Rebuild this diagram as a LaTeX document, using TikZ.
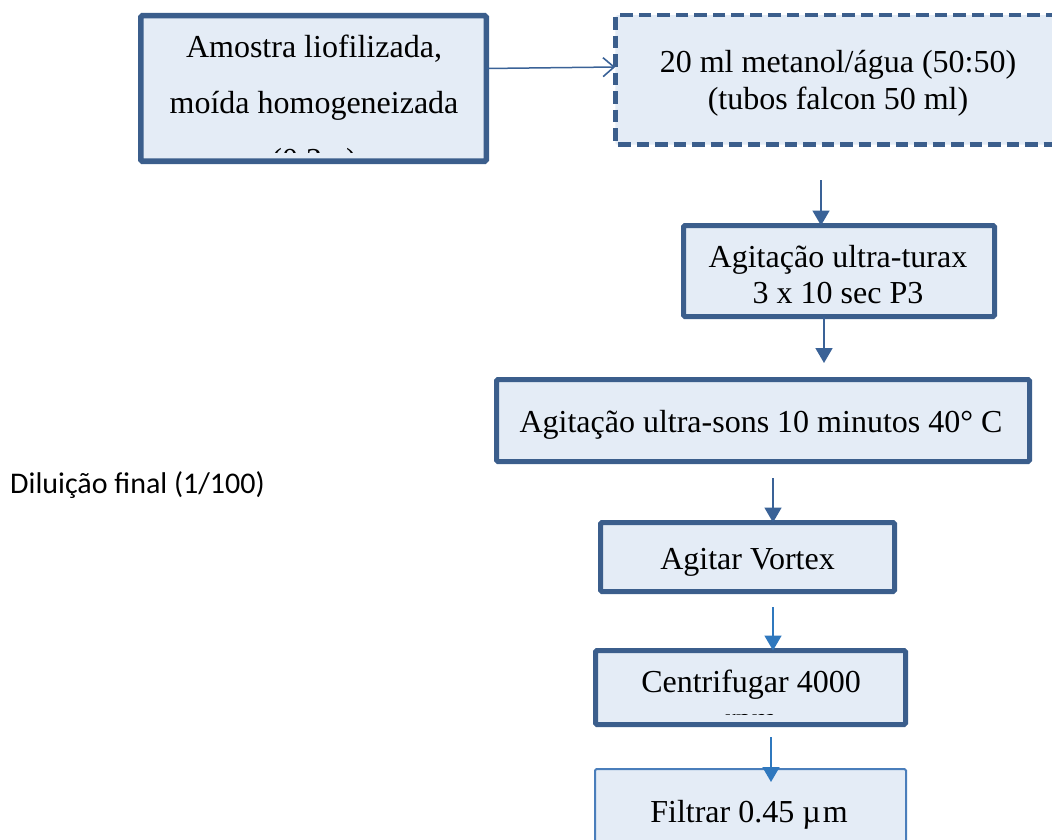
\documentclass[tikz,border=0pt]{standalone}
\usepackage{fontspec}
\setmainfont{Liberation Serif}
\newfontfamily\calibri{Carlito}
\usetikzlibrary{arrows.meta}
\definecolor{bordc}{HTML}{3B5E8C}
\definecolor{fillc}{HTML}{E4ECF6}
\definecolor{arrc}{HTML}{3A6297}
\definecolor{arrl}{HTML}{2F78BE}
\definecolor{bordl}{HTML}{4A7EBB}
\begin{document}
\begin{tikzpicture}[x=1pt,y=-1pt,
  box/.style={draw=bordc, fill=fillc, line width=5pt, rounded corners=1.5pt,
    anchor=north west, inner sep=0pt, outer sep=0pt},
  lbl/.style={font=\fontsize{32}{38}\selectfont, anchor=base, inner sep=0pt},
  flow/.style={draw=arrc, line width=1.8pt, -{Triangle[length=15pt,width=17pt]}},
  flowl/.style={draw=arrl, line width=1.8pt, -{Triangle[length=15pt,width=17pt]}},
  openflow/.style={draw=arrc, line width=1.5pt, -{Straight Barb[length=11pt,width=19pt,line width=1.6pt]}}]
\useasboundingbox (0,0) rectangle (1052,840);

% boxes
\node[box, line width=5.5pt, minimum width=345.5pt, minimum height=145.5pt] (b1) at (140.75,15.75) {};
\node[box, line width=4.5pt, dash pattern=on 12.5pt off 6pt, minimum width=500pt, minimum height=129.5pt] (b2) at (615.25,15.25) {};
\node[box, minimum width=311pt, minimum height=91pt] (b3) at (683.5,225.5) {};
\node[box, minimum width=533pt, minimum height=82pt] (b4) at (496.5,379.5) {};
\node[box, minimum width=294pt, minimum height=69pt] (b5) at (600.5,522.5) {};
\node[box, minimum width=310pt, minimum height=74pt] (b6) at (595.5,650.5) {};
\node[box, draw=bordl, line width=2pt, minimum width=311pt, minimum height=100pt] (b7) at (595,769) {};

% texts
\node[lbl] (t1a) at (314,58) {Amostra liofilizada,};
\node[lbl] (t1b) at (314,114) {moída homogeneizada};
\begin{scope}
  \clip (144,18) rectangle (484,153);
  \node[lbl] (t1c) at (314,170) {(0.2 g)};
\end{scope}
\node[lbl] (t2a) at (838,73) {20 ml metanol/água (50:50)};
\node[lbl] (t2b) at (838,110) {(tubos falcon 50 ml)};
\node[lbl] (t3a) at (838,267) {Agitação ultra-turax};
\node[lbl] (t3b) at (838,303) {3 x 10 sec P3};
\node[lbl] (t4) at (761,432) {Agitação ultra-sons 10 minutos 40° C};
\node[lbl] (t5) at (747.5,569) {Agitar Vortex};
\node[lbl] (t6a) at (751,692) {Centrifugar 4000};
\begin{scope}
  \clip (599,654) rectangle (903,714);
  \node[lbl] (t6b) at (751,729) {rpm};
\end{scope}
\node[lbl] (t7) at (749,822) {Filtrar 0.45 µ\kern2pt m};
\node[font=\calibri\fontsize{30}{36}\selectfont, anchor=base west, inner sep=0pt] (dil) at (10,493) {Diluição final (1/100)};

% connectors
\coordinate (c1) at (821,180);
\coordinate (c2) at (824,363);
\coordinate (c3) at (773,478);
\coordinate (c4) at (773,607);
\coordinate (c5) at (771,737);
\coordinate (c6) at (771,782);
\draw[openflow] ([yshift=20pt]b1.east) -- ([yshift=13pt]b2.west);
\draw[flow] (c1) -- (c1 |- b3.north);
\draw[flow] (c2 |- b3.south) -- (c2);
\draw[flow] (c3) -- (c3 |- b5.north);
\draw[flowl] (c4) -- (c4 |- b6.north);
\draw[flowl] (c5) -- (c6);
\end{tikzpicture}
\end{document}
